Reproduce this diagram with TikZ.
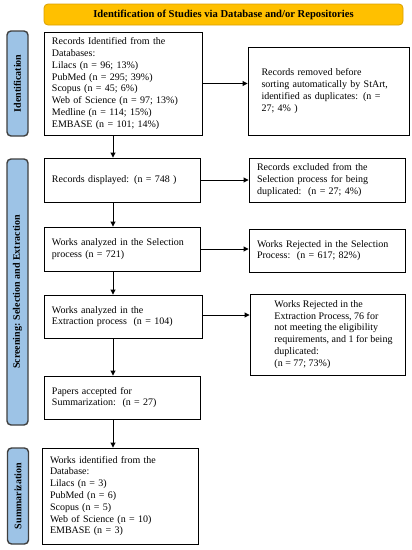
\documentclass[tikz,border=0pt]{standalone}
\usepackage{fontspec}
\setmainfont{Liberation Serif}
\usetikzlibrary{arrows.meta,calc}
\definecolor{bannerfill}{HTML}{FFC000}
\definecolor{bannerline}{HTML}{D9A000}
\definecolor{labfill}{HTML}{9DC3E6}
\definecolor{labline}{HTML}{3F3F3F}
\tikzset{
  box/.style={draw=black, line width=0.9pt, fill=white, align=left, font=\fontsize{10}{11.8}\selectfont, inner sep=0pt},
  banner/.style={draw=bannerline, line width=0.8pt, fill=bannerfill, rounded corners=4pt, font=\bfseries\fontsize{10.6}{12}\selectfont, inner sep=0pt},
  sidelab/.style={draw=labline, line width=1.4pt, fill=labfill, rounded corners=4pt, font=\bfseries\fontsize{10}{11}\selectfont, inner sep=0pt},
  arr/.style={draw=black, line width=0.9pt, -{Triangle[length=5pt,width=5pt]}}
}
\begin{document}
\begin{tikzpicture}[x=1pt,y=-1pt]
\useasboundingbox (0,0) rectangle (412,550);
% banner
\node[banner, minimum width=359pt, minimum height=21pt] (ban) at (223.5,14.5) {Identification of Studies via Database and/or Repositories};
% side labels
\node[sidelab, minimum width=105pt, minimum height=21pt, rotate=90] (idlab) at (17.5,83.5) {Identification};
\node[sidelab, minimum width=266pt, minimum height=21pt, rotate=90] (scrlab) at (17.5,292) {Screening: Selection and Extraction};
\node[sidelab, minimum width=96pt, minimum height=21pt, rotate=90] (sumlab) at (18,496) {Summarization};
% boxes
\node[box, minimum width=158pt, minimum height=103pt, text width=142pt] (rec) at (123,83.5) {Records Identified from the\\Databases:\\Lilacs (n = 96; 13\%)\\PubMed (n = 295; 39\%)\\Scopus (n = 45; 6\%)\\Web of Science (n = 97; 13\%)\\Medline (n = 114; 15\%)\\EMBASE (n = 101; 14\%)};
\node[box, minimum width=161pt, minimum height=88pt, text width=134pt] (rem) at (328.5,91) {Records removed before\\sorting automatically by StArt,\\identified as duplicates: (n =\\27; 4\% )\\[13pt]};
\node[box, minimum width=156pt, minimum height=44pt, text width=140pt] (disp) at (122,180) {Records displayed: (n = 748 )};
\node[box, minimum width=156pt, minimum height=44pt, text width=140pt] (excl) at (327,180) {Records excluded from the\\Selection process for being\\duplicated:~~(n = 27; 4\%)};
\node[box, minimum width=156pt, minimum height=44pt, text width=140pt] (sel) at (122,249) {Works analyzed in the Selection\\process (n = 721)};
\node[box, minimum width=156pt, minimum height=43pt, text width=140pt] (rejsel) at (327,250.5) {Works Rejected in the Selection\\Process:~~(n = 617; 82\%)};
\node[box, minimum width=158pt, minimum height=43pt, text width=142pt] (ext) at (123,316.5) {Works analyzed in the\\Extraction process~~(n = 104)};
\node[box, minimum width=155pt, minimum height=81pt] (rejext) at (327.5,334.5) {\hspace*{12pt}\begin{tabular}{@{}l@{}}Works Rejected in the\\Extraction Process, 76 for\\not meeting the eligibility\\requirements, and 1 for being\\duplicated:\\(n = 77; 73\%)\end{tabular}};
\node[box, minimum width=156pt, minimum height=43pt, text width=140pt] (acc) at (122,397.5) {Papers accepted for\\Summarization:~~(n = 27)};
\node[box, minimum width=156pt, minimum height=96pt, text width=140pt] (sum) at (120,496) {Works identified from the\\Database:\\Lilacs (n = 3)\\PubMed (n = 6)\\Scopus (n = 5)\\Web of Science (n = 10)\\EMBASE (n = 3)};
% connectors
\draw[arr] (rec.east) -- (rec.east -| rem.west);
\draw[arr] ([xshift=-10pt]rec.south) -- ([xshift=-10pt]rec.south |- disp.north);
\draw[arr] (disp.east) -- (excl.west);
\draw[arr] ([xshift=-9pt]disp.south) -- ([xshift=-9pt]disp.south |- sel.north);
\draw[arr] (sel.east) -- (sel.east -| rejsel.west);
\draw[arr] ([xshift=-9pt]sel.south) -- ([xshift=-9pt]sel.south |- ext.north);
\draw[arr] ([yshift=1.5pt]ext.east) -- ([yshift=1.5pt]ext.east -| rejext.west);
\draw[arr] ([xshift=-10pt]ext.south) -- ([xshift=-10pt]ext.south |- acc.north);
\draw[arr] ([xshift=-9pt]acc.south) -- ([xshift=-9pt]acc.south |- sum.north);
\end{tikzpicture}
\end{document}
